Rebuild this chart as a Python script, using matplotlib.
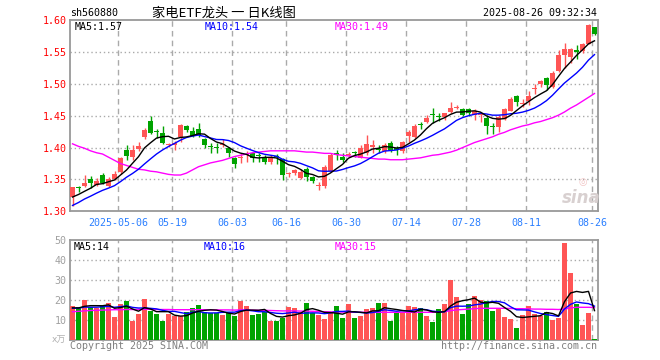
import numpy as np
import pandas as pd
import matplotlib
matplotlib.use('Agg')
import matplotlib.pyplot as plt

# daily candles (one per trading day, 04-21 .. 08-26)
opens = [1.323, 1.337, 1.340, 1.351, 1.341, 1.357, 1.340, 1.351, 1.361, 1.396,
         1.386, 1.398, 1.417, 1.442, 1.425, 1.423, 1.404, 1.404, 1.416, 1.434,
         1.426, 1.429, 1.413, 1.403, 1.401, 1.404, 1.400, 1.383, 1.384, 1.388,
         1.391, 1.388, 1.386, 1.377, 1.386, 1.382, 1.358, 1.360, 1.352, 1.367,
         1.354, 1.339, 1.339, 1.364, 1.391, 1.386, 1.389, 1.392, 1.384, 1.391,
         1.401, 1.397, 1.394, 1.407, 1.400, 1.394, 1.418, 1.417, 1.437, 1.440,
         1.452, 1.449, 1.448, 1.456, 1.463, 1.460, 1.461, 1.452, 1.451, 1.446,
         1.434, 1.433, 1.445, 1.458, 1.481, 1.469, 1.473, 1.492, 1.500, 1.510,
         1.495, 1.520, 1.546, 1.542, 1.554, 1.552, 1.563, 1.589]
highs = [1.338, 1.340, 1.357, 1.356, 1.353, 1.360, 1.354, 1.364, 1.386, 1.404,
         1.404, 1.409, 1.431, 1.449, 1.430, 1.434, 1.408, 1.411, 1.437, 1.435,
         1.432, 1.438, 1.415, 1.407, 1.407, 1.413, 1.401, 1.386, 1.391, 1.394,
         1.393, 1.391, 1.388, 1.388, 1.390, 1.384, 1.362, 1.367, 1.366, 1.370,
         1.355, 1.346, 1.372, 1.392, 1.396, 1.391, 1.393, 1.395, 1.404, 1.420,
         1.412, 1.404, 1.407, 1.410, 1.402, 1.411, 1.428, 1.437, 1.441, 1.451,
         1.462, 1.454, 1.455, 1.472, 1.467, 1.462, 1.462, 1.460, 1.455, 1.451,
         1.438, 1.451, 1.463, 1.480, 1.482, 1.477, 1.489, 1.500, 1.507, 1.511,
         1.521, 1.553, 1.564, 1.556, 1.561, 1.564, 1.594, 1.590]
lows = [1.308, 1.331, 1.338, 1.336, 1.339, 1.343, 1.338, 1.349, 1.358, 1.381,
        1.381, 1.395, 1.414, 1.421, 1.415, 1.405, 1.401, 1.397, 1.409, 1.425,
        1.417, 1.417, 1.399, 1.391, 1.391, 1.401, 1.386, 1.368, 1.376, 1.378,
        1.378, 1.378, 1.375, 1.375, 1.375, 1.349, 1.354, 1.357, 1.350, 1.348,
        1.344, 1.333, 1.336, 1.362, 1.381, 1.378, 1.386, 1.385, 1.383, 1.389,
        1.392, 1.391, 1.392, 1.393, 1.388, 1.392, 1.409, 1.415, 1.430, 1.438,
        1.438, 1.442, 1.444, 1.455, 1.461, 1.449, 1.450, 1.443, 1.441, 1.422,
        1.421, 1.425, 1.443, 1.457, 1.465, 1.464, 1.467, 1.484, 1.496, 1.491,
        1.494, 1.519, 1.525, 1.533, 1.539, 1.548, 1.562, 1.577]
closes = [1.338, 1.336, 1.345, 1.344, 1.348, 1.344, 1.351, 1.359, 1.383, 1.387,
          1.397, 1.403, 1.428, 1.423, 1.424, 1.408, 1.406, 1.407, 1.435, 1.428,
          1.419, 1.420, 1.404, 1.401, 1.400, 1.406, 1.392, 1.374, 1.385, 1.390,
          1.383, 1.387, 1.378, 1.386, 1.385, 1.357, 1.360, 1.365, 1.362, 1.354,
          1.348, 1.341, 1.370, 1.388, 1.388, 1.381, 1.390, 1.391, 1.399, 1.405,
          1.404, 1.396, 1.404, 1.396, 1.397, 1.409, 1.424, 1.434, 1.436, 1.446,
          1.451, 1.448, 1.454, 1.462, 1.464, 1.452, 1.454, 1.457, 1.452, 1.434,
          1.433, 1.448, 1.461, 1.477, 1.472, 1.470, 1.481, 1.493, 1.505, 1.498,
          1.518, 1.546, 1.555, 1.555, 1.550, 1.562, 1.593, 1.579]
# volume in 万 (10k) units
volumes = [17.2, 16.6, 20.2, 16.6, 16.0, 17.0, 18.8, 11.7, 18.2, 19.8,
           9.8, 13.2, 20.7, 14.7, 13.2, 9.8, 13.2, 12.0, 12.3, 14.3,
           16.3, 17.7, 14.3, 13.6, 13.6, 12.7, 13.6, 12.2, 19.8, 17.2,
           12.7, 13.2, 14.3, 9.8, 9.8, 11.0, 16.6, 16.2, 14.0, 18.7,
           13.7, 12.5, 10.8, 13.6, 17.2, 11.2, 18.2, 11.2, 12.2, 15.7,
           16.2, 18.7, 18.7, 9.7, 13.7, 13.7, 17.2, 16.5, 16.2, 12.2,
           9.3, 15.7, 18.2, 30.2, 21.7, 13.2, 18.2, 22.2, 20.2, 19.7,
           14.7, 15.7, 11.7, 10.7, 6.2, 12.7, 17.2, 13.2, 12.2, 14.2,
           10.2, 11.2, 48.8, 33.8, 18.2, 7.7, 13.8, 0.7]

# closes / volumes of the days just before the window (estimated from where the MA lines start)
prev_closes = [1.29, 1.29, 1.30, 1.30, 1.30, 1.316, 1.32, 1.32, 1.318]
prev_volumes = [16, 15, 17, 16, 15, 17, 16, 15, 16]

# 30-day averages
ma30_price = [1.406, 1.402, 1.399, 1.395, 1.392, 1.390, 1.385, 1.380, 1.375, 1.372,
              1.369, 1.366, 1.365, 1.363, 1.362, 1.360, 1.358, 1.357, 1.357, 1.360,
              1.365, 1.370, 1.373, 1.376, 1.378, 1.380, 1.383, 1.386, 1.388, 1.390,
              1.392, 1.393, 1.394, 1.395, 1.395, 1.395, 1.395, 1.395, 1.394, 1.393,
              1.393, 1.392, 1.391, 1.391, 1.389, 1.388, 1.387, 1.386, 1.385, 1.384,
              1.383, 1.382, 1.382, 1.381, 1.381, 1.381, 1.382, 1.383, 1.384, 1.386,
              1.388, 1.389, 1.391, 1.393, 1.396, 1.400, 1.404, 1.408, 1.411, 1.414,
              1.417, 1.421, 1.424, 1.428, 1.431, 1.434, 1.436, 1.439, 1.441, 1.444,
              1.447, 1.451, 1.456, 1.462, 1.467, 1.473, 1.479, 1.485]
ma30_vol = [14.3, 14.5, 14.7, 14.9, 15.0, 15.1, 15.2, 15.3, 15.3, 15.4,
            15.4, 15.4, 15.5, 15.5, 15.4, 15.4, 15.4, 15.3, 15.3, 15.3,
            15.3, 15.3, 15.3, 15.2, 15.2, 15.2, 15.2, 15.1, 15.2, 15.2,
            15.1, 15.0, 15.0, 14.9, 14.8, 14.7, 14.7, 14.7, 14.6, 14.6,
            14.5, 14.4, 14.3, 14.2, 14.2, 14.1, 14.1, 14.0, 14.0, 14.0,
            14.0, 14.0, 14.0, 14.0, 14.0, 14.0, 14.0, 14.0, 14.0, 14.0,
            14.0, 14.1, 14.3, 14.8, 15.2, 15.4, 15.6, 15.8, 16.0, 16.0,
            16.0, 16.0, 16.0, 15.9, 15.8, 15.8, 15.7, 15.6, 15.6, 15.5,
            15.5, 15.4, 15.6, 16.2, 16.5, 16.5, 16.5, 16.4]

date_idx = [8, 17, 27, 36, 46, 56, 66, 76, 87]
date_labels = ['2025-05-06', '05-19', '06-03', '06-16', '06-30',
               '07-14', '07-28', '08-11', '08-26']
price_ticks = [1.30, 1.35, 1.40, 1.45, 1.50, 1.55, 1.60]
vol_ticks = [10, 20, 30, 40, 50]

RED = '#ff5555'
GREEN = '#00a300'
GRID = '#aaaaaa'
MONO = ['DejaVu Sans Mono', 'Noto Sans CJK SC']
plt.rcParams['font.family'] = MONO

W, H = 660, 360


def rect(x0, y0, x1, y1):
    return [x0 / W, 1 - y1 / H, (x1 - x0) / W, (y1 - y0) / H]


def ftext(x, y, s, **kw):
    fig.text(x / W, 1 - y / H, s, **kw)


def moving_avg(prev, vals, n):
    s = pd.Series(list(prev) + list(vals)).rolling(n).mean()
    return s.values[len(prev):]


n = len(closes)
xs = np.arange(n) + 2.5 / 6
up = np.array(closes) >= np.array(opens)
colors = [RED if u else GREEN for u in up]

fig = plt.figure(figsize=(6.6, 3.6), dpi=100)
ax = fig.add_axes(rect(70, 20.3, 598, 211.3))
axv = fig.add_axes(rect(70, 240.3, 598, 340.3))

# --- price panel
ax.vlines(xs, lows, highs, colors=colors, lw=1, zorder=3)
bottoms = np.minimum(opens, closes)
heights = np.maximum(np.abs(np.array(closes) - np.array(opens)), 0.0016)
ax.bar(xs, heights, bottom=bottoms, width=5 / 6, color=colors, lw=0, zorder=4)

ma5 = moving_avg(prev_closes, closes, 5)
ma10 = moving_avg(prev_closes, closes, 10)
ax.plot(xs, ma30_price, color='#ff00ff', lw=1, zorder=5)
ax.plot(xs, ma10, color='#0000ff', lw=1, zorder=5)
ax.plot(xs, ma5, color='black', lw=1, zorder=5)

ax.set_xlim(0, 88)
ax.set_ylim(1.30, 1.60)
ax.set_yticks(price_ticks)
ax.set_yticklabels([f'{t:.2f}' for t in price_ticks])
ax.tick_params(axis='y', length=0, pad=2.5, labelcolor='red', labelsize=7.2)
ax.set_xticks(date_idx)
ax.set_xticklabels(date_labels)
ax.tick_params(axis='x', length=0, pad=5, labelcolor='#2a7fff', labelsize=7.2)
for t in price_ticks[1:-1]:
    ax.axhline(t, color=GRID, lw=1, ls=(0, (1, 2)), zorder=1)

# --- volume panel
axv.bar(xs, volumes, width=5 / 6, color=colors, lw=0, zorder=3)
vma5 = moving_avg(prev_volumes, volumes, 5)
vma10 = moving_avg(prev_volumes, volumes, 10)
axv.plot(xs, ma30_vol, color='#ff00ff', lw=1, zorder=5)
axv.plot(xs, vma10, color='#0000ff', lw=1, zorder=5)
axv.plot(xs, vma5, color='black', lw=1, zorder=5)
axv.set_xlim(0, 88)
axv.set_ylim(0, 50)
axv.set_yticks(vol_ticks)
axv.tick_params(axis='y', length=0, pad=2.5, labelcolor='#a0a0a0', labelsize=7.2)
axv.set_xticks([])
for t in vol_ticks[:-1]:
    axv.axhline(t, color=GRID, lw=1, ls=(0, (1, 2)), zorder=1)

for a in (ax, axv):
    for d in date_idx:
        a.axvline(d, color=GRID, lw=1, ls=(0, (4, 3)), zorder=1)
    for sp in a.spines.values():
        sp.set_color('#999999')
        sp.set_linewidth(1.3)

# --- texts
ftext(70, 13, 'sh560880', fontsize=7.2, va='center', ha='left')
ftext(152, 13, '家电ETF龙头 一 日K线图', fontsize=9.5, va='center', ha='left',
      family=['Noto Sans CJK SC', 'DejaVu Sans'])
ftext(597, 13, '2025-08-26 09:32:34', fontsize=7.2, va='center', ha='right')

ftext(75, 27, f'MA5:{ma5[-1]:.2f}', fontsize=7.2, va='center', color='black')
ftext(205, 27, 'MA10:1.54', fontsize=7.2, va='center', color='#0000ff')
ftext(335, 27, f'MA30:{ma30_price[-1]:.2f}', fontsize=7.2, va='center', color='#ff00ff')

ftext(74, 246.5, 'MA5:14', fontsize=7.2, va='center', color='black')
ftext(204, 246.5, 'MA10:16', fontsize=7.2, va='center', color='#0000ff')
ftext(335, 246.5, 'MA30:15', fontsize=7.2, va='center', color='#ff00ff')

ftext(66, 340, 'x万', fontsize=6.5, va='center', ha='right', color='#b0b0b0',
      family=['DejaVu Sans', 'Noto Sans CJK SC'])
ftext(70, 346, 'Copyright 2025 SINA.COM', fontsize=7.2, va='center', color='#808080')
ftext(597, 346, 'http://finance.sina.com.cn', fontsize=7.2, va='center', ha='right',
      color='#808080')

# sina watermark
ftext(581, 198, 'sina', fontsize=12, va='center', ha='center', color='#d8d0d0',
      style='italic', weight='bold', family=['DejaVu Sans'])
ftext(583, 182, '◎', fontsize=7, va='center', ha='center', color='#f2c4c4',
      family=['DejaVu Sans'])

fig.savefig('out.png', dpi=100)
